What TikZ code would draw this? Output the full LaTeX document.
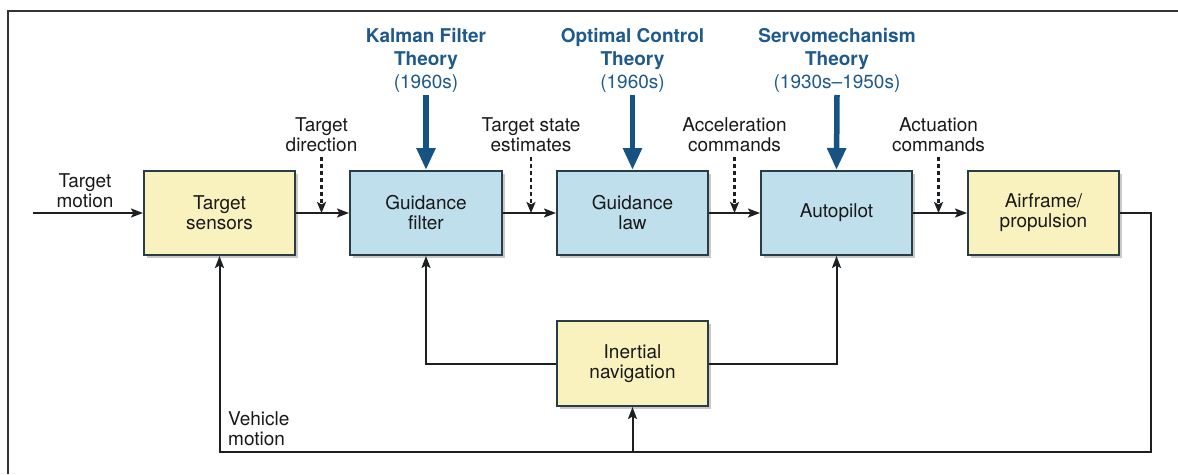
\documentclass[tikz,border=0pt]{standalone}
\usepackage{fontspec}
\setmainfont{TeX Gyre Heros}
\usetikzlibrary{arrows.meta,shadows,calc}
\definecolor{boxyellow}{RGB}{249,242,190}
\definecolor{boxblue}{RGB}{191,223,236}
\definecolor{boxline}{RGB}{40,62,68}
\definecolor{titleblue}{RGB}{30,90,140}
\definecolor{arrowblue}{RGB}{22,82,130}
\definecolor{linegray}{RGB}{28,32,34}
\definecolor{textgray}{RGB}{25,25,25}
\begin{document}
\begin{tikzpicture}[x=1pt,y=-1pt,
  every node/.style={font=\fontsize{19}{20}\selectfont, text=textgray, align=center, inner sep=0pt},
  blockbox/.style={draw=boxline, line width=2pt, minimum width=151pt, minimum height=84pt,
    drop shadow={shadow xshift=3pt, shadow yshift=-3pt, opacity=0.35, fill=black!60}},
  ybox/.style={blockbox, fill=boxyellow},
  bbox/.style={blockbox, fill=boxblue},
  titletext/.style={font=\fontsize{19}{23}\selectfont, text=titleblue},
  arr/.style={draw=linegray, line width=2pt, -{Stealth[length=12pt,width=9pt,inset=2.5pt]}},
  dasharr/.style={draw=linegray, line width=2.2pt, dash pattern=on 4pt off 3pt, -{Stealth[length=11pt,width=9pt,inset=2.5pt]}},
  bluearr/.style={draw=arrowblue, line width=5.5pt, -{Triangle[length=22pt,width=18pt]}}
]
\useasboundingbox (0,0) rectangle (1178,474);
\fill[white] (0,0) rectangle (1178,474);
% frame
\draw[draw=black!80, line width=1.6pt] (8,474) -- (8,11) -- (1178,11);

% blocks
\node[ybox] (ts) at (219.5,213) {Target\\sensors};
\node[bbox, minimum width=152pt] (gf) at (426,213) {Guidance\\filter};
\node[bbox] (gl) at (632.5,213) {Guidance\\law};
\node[bbox] (ap) at (836.5,213) {Autopilot};
\node[ybox] (af) at (1043.5,213) {Airframe/\\propulsion};
\node[ybox, minimum height=85pt] (in) at (632.5,363.5) {Inertial\\navigation};

% titles
\node[titletext] (kf) at (426,60) {\textbf{Kalman Filter}\\\textbf{Theory}\\(1960s)};
\node[titletext] (oc) at (632.5,60) {\textbf{Optimal Control}\\\textbf{Theory}\\(1960s)};
\node[titletext] (sv) at (837,60) {\textbf{Servomechanism}\\\textbf{Theory}\\(1930s--1950s)};

\draw[bluearr] (kf.south |- 0,95) -- (gf.north);
\draw[bluearr] (oc.south |- 0,95) -- (gl.north);
\draw[bluearr] (sv.south |- 0,95) -- (ap.north);

% signal labels
\node (tm) at (85,190.5) {Target\\motion};
\node (tdl) at (321.5,134.5) {Target\\direction};
\node (tsl) at (531,134.5) {Target state\\estimates};
\node (acl) at (734.5,134.5) {Acceleration\\commands};
\node (acu) at (938.5,134.5) {Actuation\\commands};
\node[anchor=west, align=left] (vm) at (228,429) {Vehicle\\motion};

% forward path
\coordinate (start) at (33,213);
\draw[arr] (start) -- (ts.west);
\draw[arr] (ts.east) -- (gf.west);
\draw[arr] (gf.east) -- (gl.west);
\draw[arr] (gl.east) -- (ap.west);
\draw[arr] (ap.east) -- (af.west);

% dashed label arrows
\draw[dasharr] (tdl.south |- 0,157) -- (tdl.south |- ts.east);
\draw[dasharr] (tsl.south |- 0,157) -- (tsl.south |- gf.east);
\draw[dasharr] (acl.south |- 0,157) -- (acl.south |- gl.east);
\draw[dasharr] (acu.south |- 0,157) -- (acu.south |- ap.east);

% feedback
\coordinate (c1) at (1151,452);
\draw[arr] (af.east) -| (c1) -| (ts.south);
\draw[arr] (in.south |- c1) -- (in.south);
\draw[arr] (in.west) -| (gf.south);
\draw[arr] (in.east) -| (ap.south);
\end{tikzpicture}
\end{document}
